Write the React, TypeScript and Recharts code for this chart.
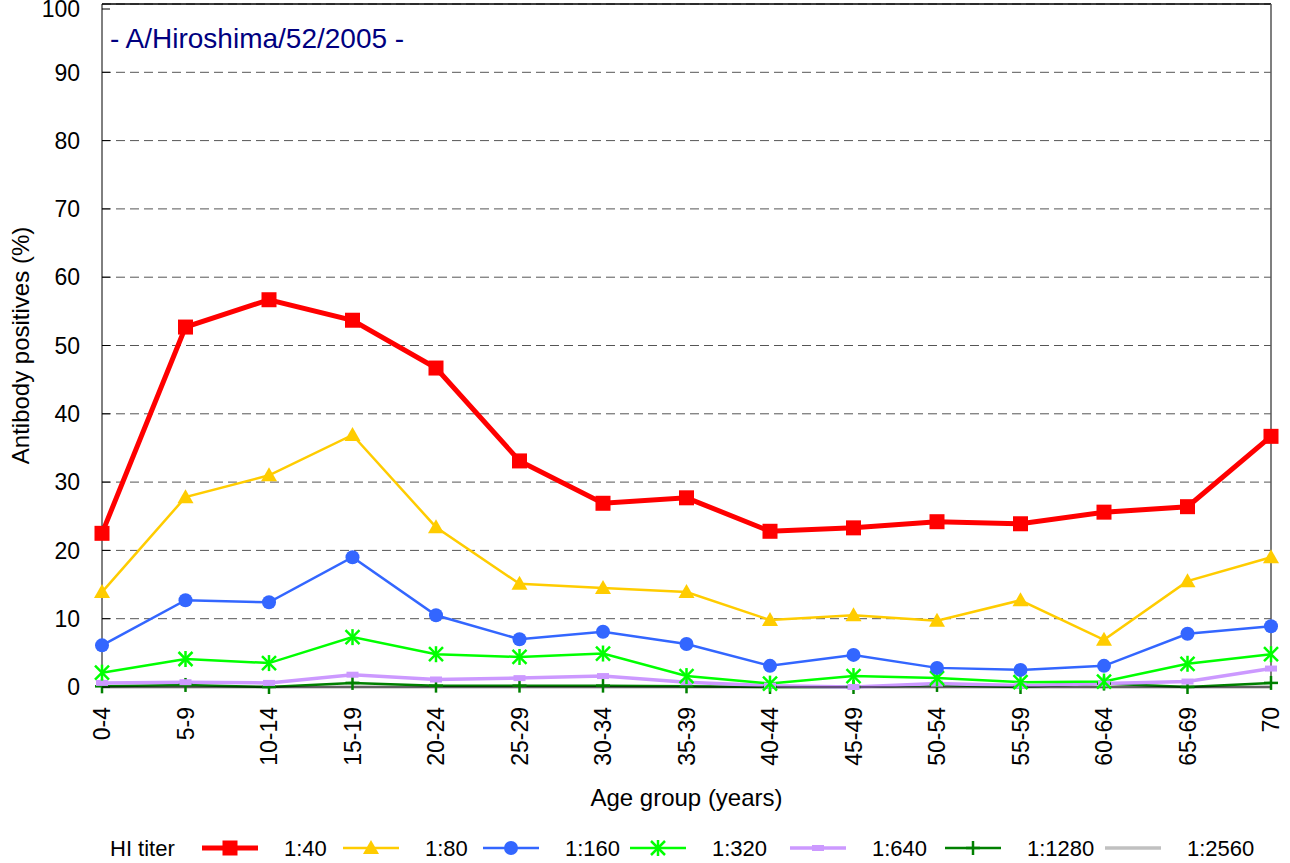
import { CartesianGrid, Legend, Line, LineChart, ReferenceLine, XAxis, YAxis } from 'recharts'

const FONT = '"Liberation Sans", Arial, sans-serif'

const ageGroups = ['0-4', '5-9', '10-14', '15-19', '20-24', '25-29', '30-34', '35-39', '40-44', '45-49', '50-54', '55-59', '60-64', '65-69', '70']

const hi40 = [22.5, 52.7, 56.7, 53.7, 46.7, 33.1, 26.9, 27.7, 22.8, 23.3, 24.2, 23.9, 25.6, 26.4, 36.7]
const hi80 = [13.9, 27.8, 31.0, 36.9, 23.4, 15.1, 14.5, 13.9, 9.8, 10.5, 9.7, 12.7, 6.9, 15.5, 19.0]
const hi160 = [6.1, 12.7, 12.4, 19.0, 10.5, 7.0, 8.1, 6.3, 3.1, 4.7, 2.8, 2.5, 3.1, 7.8, 8.9]
const hi320 = [2.1, 4.1, 3.5, 7.3, 4.8, 4.4, 4.9, 1.6, 0.5, 1.6, 1.3, 0.7, 0.8, 3.4, 4.8]
const hi640 = [0.6, 0.7, 0.6, 1.8, 1.1, 1.3, 1.6, 0.7, 0.2, 0.0, 0.5, 0.2, 0.5, 0.8, 2.7]
const hi1280 = [0.1, 0.3, 0.0, 0.6, 0.2, 0.2, 0.2, 0.1, 0.0, 0.0, 0.3, 0.0, 0.5, 0.0, 0.6]
const hi2560 = [0, 0, 0, 0, 0, 0, 0, 0, 0, 0, 0, 0, 0, 0, 0]

const yTicks = [0, 10, 20, 30, 40, 50, 60, 70, 80, 90, 100]

const rows = ageGroups.map((age, i) => ({
  age,
  t40: hi40[i],
  t80: hi80[i],
  t160: hi160[i],
  t320: hi320[i],
  t640: hi640[i],
  t1280: hi1280[i],
  t2560: hi2560[i],
}))

type Mk = 'square' | 'triangle' | 'circle' | 'star' | 'dash' | 'plus' | 'none'

const series: { key: string; name: string; color: string; width: number; marker: Mk }[] = [
  { key: 't40', name: '1:40', color: '#FF0000', width: 5, marker: 'square' },
  { key: 't80', name: '1:80', color: '#FFCC00', width: 2.5, marker: 'triangle' },
  { key: 't160', name: '1:160', color: '#3366FF', width: 2.5, marker: 'circle' },
  { key: 't320', name: '1:320', color: '#00FF00', width: 2.5, marker: 'star' },
  { key: 't640', name: '1:640', color: '#CC99FF', width: 3.5, marker: 'dash' },
  { key: 't1280', name: '1:1280', color: '#008000', width: 2.5, marker: 'plus' },
  { key: 't2560', name: '1:2560', color: '#C0C0C0', width: 3.5, marker: 'none' },
]

// legend entry left edges (px) within the chart
const legendX = [202, 343, 483, 630, 790, 945, 1105]

function Marker({ cx, cy, type, color }: { cx: number; cy: number; type: Mk; color: string }) {
  if (type === 'square') return <rect x={cx - 7.5} y={cy - 7.5} width={15} height={15} fill={color} />
  if (type === 'triangle')
    return <polygon points={`${cx},${cy - 8} ${cx + 8},${cy + 6} ${cx - 8},${cy + 6}`} fill={color} />
  if (type === 'circle') return <circle cx={cx} cy={cy} r={7} fill={color} />
  if (type === 'star')
    return (
      <g stroke={color} strokeWidth={2.5}>
        <line x1={cx} y1={cy - 8} x2={cx} y2={cy + 8} />
        <line x1={cx - 7} y1={cy - 7} x2={cx + 7} y2={cy + 7} />
        <line x1={cx - 7} y1={cy + 7} x2={cx + 7} y2={cy - 7} />
      </g>
    )
  if (type === 'dash') return <rect x={cx - 6} y={cy - 3} width={12} height={6} fill={color} />
  if (type === 'plus')
    return (
      <g stroke={color} strokeWidth={2.5}>
        <line x1={cx} y1={cy - 7} x2={cx} y2={cy + 7} />
        <line x1={cx - 7} y1={cy} x2={cx + 7} y2={cy} />
      </g>
    )
  return null
}

function YTick({ x, y, payload }: any) {
  return (
    <g>
      <line x1={x} y1={y} x2={x + 8} y2={y} stroke="#000" strokeWidth={1} />
      <text x={x - 22} y={y} dy="0.36em" textAnchor="end" fontSize={23} fill="#000" fontFamily={FONT}>
        {payload.value}
      </text>
    </g>
  )
}

function XTick({ x, y, payload }: any) {
  const ty = y + 12
  return (
    <text
      x={x}
      y={ty}
      dy="0.36em"
      transform={`rotate(-90, ${x}, ${ty})`}
      textAnchor="end"
      fontSize={23}
      fill="#000"
      fontFamily={FONT}
    >
      {payload.value}
    </text>
  )
}

function LegendBox() {
  return (
    <div style={{ position: 'relative', height: 40, fontFamily: FONT, fontSize: 22, color: '#000' }}>
      <span style={{ position: 'absolute', left: 110, top: 13 }}>HI titer</span>
      {series.map((s, i) => (
        <div key={s.key} style={{ position: 'absolute', left: legendX[i], top: 0, height: 40 }}>
          <svg width={56} height={40} style={{ position: 'absolute', left: 0, top: 0 }}>
            <line x1={0} y1={25} x2={56} y2={25} stroke={s.color} strokeWidth={s.width} strokeLinecap="round" />
            <Marker cx={28} cy={25} type={s.marker} color={s.color} />
          </svg>
          <span style={{ position: 'absolute', left: 82, top: 13, whiteSpace: 'nowrap' }}>{s.name}</span>
        </div>
      ))}
    </div>
  )
}

export default function App() {
  return (
    <div style={{ position: 'absolute', left: 0, top: 0, width: 1290, height: 863, background: '#fff' }}>
      <LineChart width={1290} height={863} data={rows} margin={{ top: 4, right: 19, left: 0, bottom: 0 }}>
        <CartesianGrid horizontal vertical={false} stroke="#555" strokeDasharray="9 5" />
        <XAxis
          dataKey="age"
          height={136}
          stroke="#000"
          tickLine={false}
          interval={0}
          tick={<XTick />}
          label={{
            content: ({ viewBox }: any) => (
              <text
                x={viewBox.x + viewBox.width / 2}
                y={viewBox.y + 119}
                textAnchor="middle"
                fontSize={24}
                fill="#000"
                fontFamily={FONT}
              >
                Age group (years)
              </text>
            ),
          }}
        />
        <YAxis
          type="number"
          domain={[0, 100]}
          ticks={yTicks}
          width={102}
          stroke="#000"
          tickLine={false}
          tickSize={0}
          tickMargin={0}
          tick={<YTick />}
          label={{
            content: ({ viewBox }: any) => {
              const cy = viewBox.y + viewBox.height / 2
              return (
                <text
                  x={20}
                  y={cy}
                  dy="0.36em"
                  transform={`rotate(-90, 20, ${cy})`}
                  textAnchor="middle"
                  fontSize={24}
                  fill="#000"
                  fontFamily={FONT}
                >
                  Antibody positives (%)
                </text>
              )
            },
          }}
        />
        <ReferenceLine
          y={100}
          stroke="#000"
          strokeWidth={1.5}
          label={{
            content: ({ viewBox }: any) => (
              <text x={viewBox.x + 8} y={viewBox.y + 44} fontSize={28} fill="#000080" fontFamily={FONT}>
                - A/Hiroshima/52/2005 -
              </text>
            ),
          }}
        />
        <ReferenceLine x="70" stroke="#555" strokeWidth={1.5} />
        {series
          .slice()
          .reverse()
          .map((s) => (
            <Line
              key={s.key}
              dataKey={s.key}
              name={s.name}
              stroke={s.color}
              strokeWidth={s.width}
              isAnimationActive={false}
              dot={(p: any) => <Marker key={`${s.key}-${p.index}`} cx={p.cx} cy={p.cy} type={s.marker} color={s.color} />}
              activeDot={false}
            />
          ))}
        <Legend verticalAlign="bottom" content={<LegendBox />} wrapperStyle={{ height: 40 }} />
      </LineChart>
    </div>
  )
}
